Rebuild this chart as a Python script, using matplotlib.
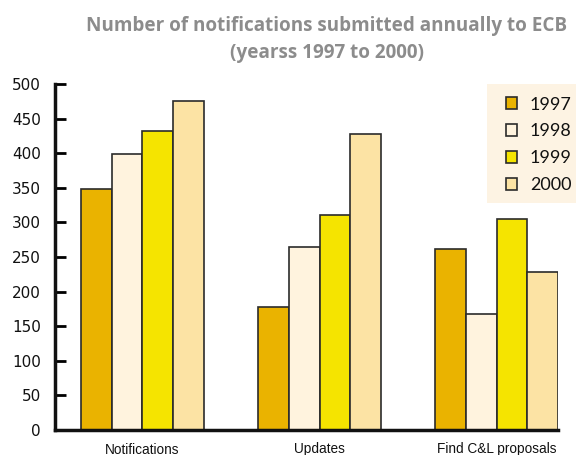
import matplotlib
matplotlib.use("Agg")
import matplotlib.pyplot as plt
from matplotlib.patches import Rectangle
import numpy as np

categories = ["Notifications", "Updates", "Find C&L proposals"]
years = ["1997", "1998", "1999", "2000"]
values = {
    "1997": [348, 178, 261],
    "1998": [399, 264, 168],
    "1999": [432, 311, 305],
    "2000": [475, 428, 229],
}
colors = ["#EAB300", "#FFF3DE", "#F5E400", "#FCE3A4"]
y_ticks = [0, 50, 100, 150, 200, 250, 300, 350, 400, 450, 500]

W, H = 576, 455
fig = plt.figure(figsize=(W / 100, H / 100), dpi=100)
ax = fig.add_axes([55 / W, 25 / H, (558 - 55) / W, (430 - 84) / H])

w = 0.1735
x = np.arange(len(categories))
for i, (yr, col) in enumerate(zip(years, colors)):
    ax.bar(x + (i - 1.5) * w, values[yr], width=w, color=col,
           edgecolor="#2b2b2b", linewidth=1.2, label=yr, zorder=2)

ax.set_xlim(-0.494, 2 + 2 * w)
ax.set_ylim(0, 500)
ax.set_yticks(y_ticks)
ax.set_yticklabels([str(t) for t in y_ticks], fontsize=11,
                   family=["DejaVu Sans"], color="#111111")
ax.set_xticks(x)
ax.set_xticklabels(categories, fontsize=9.8,
                   family=["Liberation Sans Narrow", "Liberation Sans", "DejaVu Sans"],
                   color="#111111")
ax.tick_params(axis="y", direction="in", length=8, width=2, pad=10)
ax.tick_params(axis="x", length=0, pad=9)
for side in ("top", "right"):
    ax.spines[side].set_visible(False)
for side in ("left", "bottom"):
    ax.spines[side].set_linewidth(2.5)
    ax.spines[side].set_color("#111111")

title_font = dict(ha="center", va="center", fontsize=13.6, fontweight="bold",
                  color="#8c8c8c", family=["Open Sans", "DejaVu Sans"])
fig.text(327 / W, 1 - 26 / H, "Number of notifications submitted annually to ECB",
         **title_font)
fig.text(327 / W, 1 - 53 / H, "(yearss 1997 to 2000)", **title_font)

# legend panel
fig.patches.append(Rectangle((487 / W, 1 - 203 / H), (576 - 487) / W, (203 - 84) / H,
                             transform=fig.transFigure, facecolor="#FDF3E3",
                             edgecolor="none", zorder=0))
handles, labels = ax.get_legend_handles_labels()
leg = fig.legend(handles, labels, loc="upper left",
                 bbox_to_anchor=(493 / W, 1 - 84 / H), frameon=False,
                 prop={"family": ["Lato", "DejaVu Sans"], "size": 13},
                 handlelength=0.65, handleheight=0.65, handletextpad=0.7,
                 labelspacing=0.6, borderpad=0.2)
for t in leg.get_texts():
    t.set_color("#111111")

fig.savefig("out.png", dpi=100)
